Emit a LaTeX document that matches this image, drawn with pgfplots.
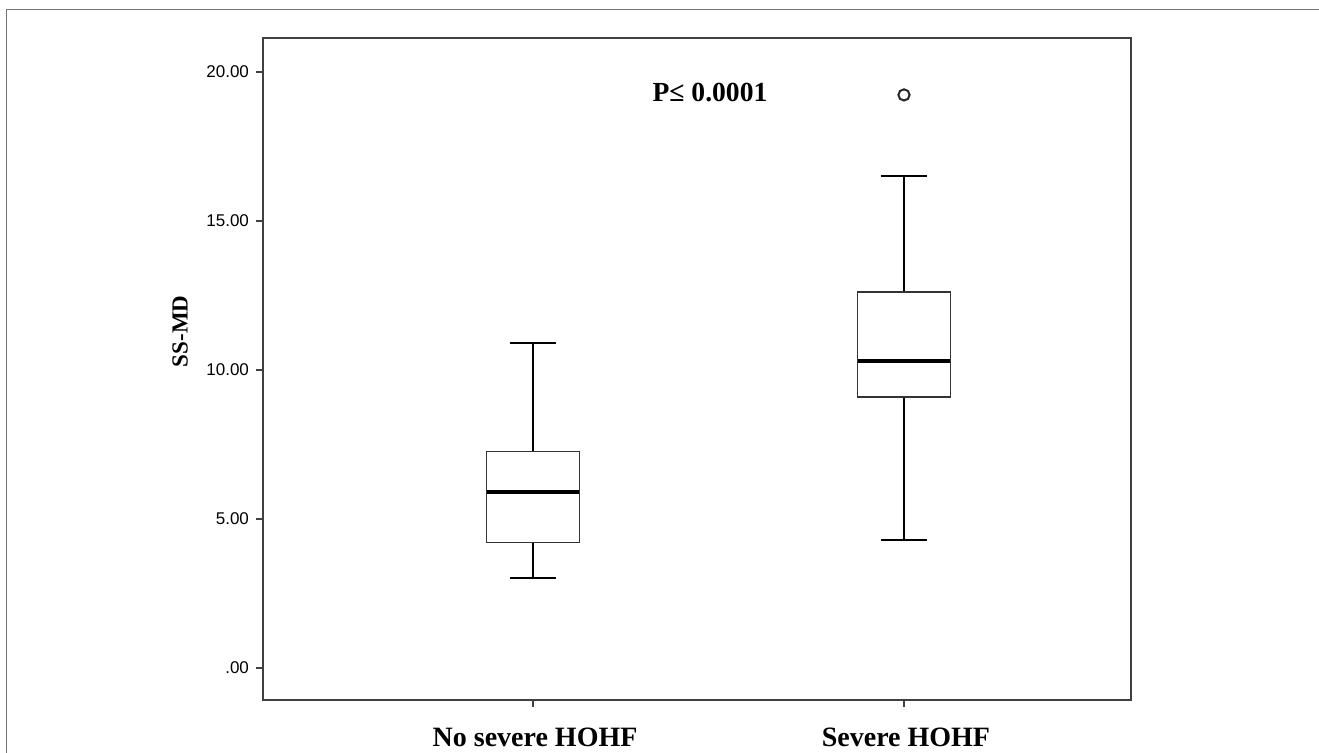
\documentclass[border=0pt]{standalone}
\usepackage{fontspec}
\setmainfont{Liberation Serif}
\newfontfamily\arial{Liberation Sans}
\usepackage{pgfplots}
\pgfplotsset{compat=1.18}
\usepgfplotslibrary{statistics}

\begin{document}
\begin{tikzpicture}
% outer frame (only top and left edge visible)
\draw[black!55, line width=0.5pt] (3pt,0pt) -- (3pt,371.5pt) -- (659.5pt,371.5pt);
\begin{axis}[
  at={(131.5pt,26.5pt)}, anchor=south west,
  scale only axis,
  width=434pt, height=331pt,
  xmin=0.272, xmax=2.612,
  ymin=-1.07, ymax=21.14,
  axis line style={black!75, line width=1pt},
  tick style={black!75, line width=1pt},
  tick align=outside,
  major tick length=3.5pt,
  xtick pos=bottom, ytick pos=left,
  xtick={1,2},
  xticklabels={No severe HOHF, Severe HOHF},
  xticklabel style={font=\bfseries\fontsize{14}{16}\selectfont, anchor=base, yshift=-20pt, xshift=1pt},
  ytick={0,5,10,15,20},
  yticklabels={.00,5.00,10.00,15.00,20.00},
  yticklabel style={font=\arial\fontsize{8.5}{10}\selectfont},
  ylabel={SS-MD},
  every axis y label/.style={at={(axis description cs:-0.0956,0.557)}, rotate=90, anchor=center, font=\bfseries\fontsize{11.5}{13}\selectfont},
  boxplot/draw direction=y,
  boxplot/box extend=0.25,
  boxplot/whisker extend=0.125,
  boxplot/every box/.style={draw=black!80, line width=0.75pt},
  boxplot/every whisker/.style={black, line width=1pt},
  boxplot/every median/.style={black, line width=2pt},
]
\addplot+[boxplot prepared={draw position=1, lower whisker=3.03, lower quartile=4.21,
    median=5.92, upper quartile=7.26, upper whisker=10.92},
  black, solid, mark=o, mark size=2.8pt, mark options={line width=1pt, black!85}]
  coordinates {};
\addplot+[boxplot prepared={draw position=2, lower whisker=4.30, lower quartile=9.10,
    median=10.31, upper quartile=12.61, upper whisker=16.52},
  black, solid, mark=o, mark size=2.8pt, mark options={line width=1pt, black!85}]
  table[row sep=\\, y index=0] {19.23\\};
\node[font=\bfseries\fontsize{13.8}{16}\selectfont, anchor=center] at (axis cs:1.477,19.3) {P≤ 0.0001};
\end{axis}
\pgfresetboundingbox
\useasboundingbox (0,0) rectangle (659.5pt,376.5pt);
\end{tikzpicture}
\end{document}
